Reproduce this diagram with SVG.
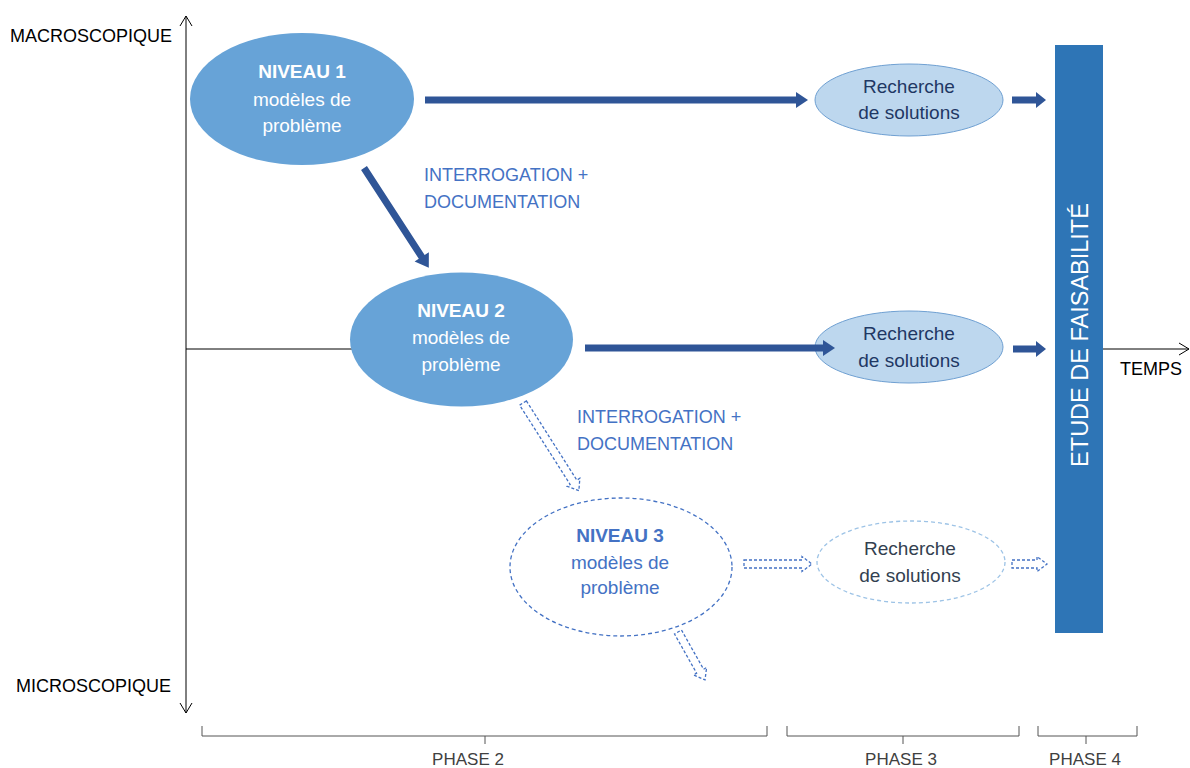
<svg xmlns="http://www.w3.org/2000/svg" width="1190" height="768" viewBox="0 0 1190 768">
<style>
text{font-family:"Liberation Sans",Arial,sans-serif}
.axis{stroke:#000;stroke-width:1;fill:none}
.lbl{font-size:18px;fill:#000}
.ph{font-size:17px;fill:#404040;text-anchor:middle}
.blu{font-size:18px;fill:#4472c4}
.lvl{fill:#67a3d7}
.wt{fill:#fff;font-size:19px;text-anchor:middle}
.rs{fill:#bdd7ee;stroke:#6fa0d2;stroke-width:1}
.rt{fill:#1f3864;font-size:19px;text-anchor:middle}
.solid{fill:#2f5597}
.hollow{fill:#fff;stroke:#4472c4;stroke-width:1.3;stroke-dasharray:3 2}
.brk{stroke:#555;stroke-width:1;fill:none}
</style>
<g id="axes">
<line class="axis" x1="186" y1="16" x2="186" y2="713"/>
<polyline class="axis" points="180,26 186,16 192,26"/>
<polyline class="axis" points="180,703 186,713 192,703"/>
<line class="axis" x1="186" y1="349" x2="352" y2="349"/>
<line class="axis" x1="1103" y1="349" x2="1189" y2="349"/>
<polyline class="axis" points="1179,343 1189,349 1179,355"/>
<text class="lbl" x="10" y="42" font-size="18.5px">MACROSCOPIQUE</text>
<text class="lbl" x="16" y="692">MICROSCOPIQUE</text>
<text class="lbl" x="1120" y="375">TEMPS</text>
</g>
<g id="niveau1">
<ellipse class="lvl" cx="302" cy="99" rx="112" ry="66"/>
<text class="wt" x="302" y="78" font-weight="bold">NIVEAU 1</text>
<text class="wt" x="302" y="106">modèles de</text>
<text class="wt" x="302" y="132">problème</text>
</g>
<g id="niveau2">
<ellipse class="lvl" cx="461.5" cy="339.5" rx="111.5" ry="67"/>
<text class="wt" x="461" y="317" font-weight="bold">NIVEAU 2</text>
<text class="wt" x="461" y="344">modèles de</text>
<text class="wt" x="461" y="371">problème</text>
</g>
<g id="niveau3">
<ellipse cx="621" cy="567" rx="111" ry="69" fill="none" stroke="#4472c4" stroke-width="1.3" stroke-dasharray="4 3"/>
<text x="620" y="542" font-size="19px" font-weight="bold" fill="#4472c4" text-anchor="middle">NIVEAU 3</text>
<text x="620" y="569" font-size="19px" fill="#4472c4" text-anchor="middle">modèles de</text>
<text x="620" y="594" font-size="19px" fill="#4472c4" text-anchor="middle">problème</text>
</g>
<g id="recherche1">
<ellipse class="rs" cx="909" cy="100" rx="94" ry="36"/>
<text class="rt" x="909" y="93">Recherche</text>
<text class="rt" x="909" y="119">de solutions</text>
</g>
<g id="recherche2">
<ellipse class="rs" cx="909" cy="347" rx="94" ry="36"/>
<text class="rt" x="909" y="340">Recherche</text>
<text class="rt" x="909" y="367">de solutions</text>
</g>
<g id="recherche3">
<ellipse cx="911" cy="562" rx="94" ry="41" fill="none" stroke="#9dc3e6" stroke-width="1.3" stroke-dasharray="4 3"/>
<text x="910" y="555" font-size="19px" fill="#333f50" text-anchor="middle">Recherche</text>
<text x="910" y="582" font-size="19px" fill="#333f50" text-anchor="middle">de solutions</text>
</g>
<g id="etude">
<rect x="1055" y="45" width="48" height="588" fill="#2e75b6"/>
<text transform="translate(1079,335) rotate(-90)" x="0" y="0" dy="8.5" font-size="23.5px" fill="#fff" text-anchor="middle">ETUDE DE FAISABILITÉ</text>
</g>
<g id="connectors">
<polygon class="solid" points="425,96.5 796,96.5 796,92 808,100 796,108 796,103.5 425,103.5"/>
<polygon class="solid" points="1012,96.5 1036,96.5 1036,92 1046,100 1036,108 1036,103.5 1012,103.5"/>
<polygon class="solid" points="585,344.5 823,344.5 823,340 835,348 823,356 823,351.5 585,351.5"/>
<polygon class="solid" points="1013,345.5 1036,345.5 1036,341 1046,349 1036,357 1036,352.5 1013,352.5"/>
<polygon class="solid" transform="translate(364,168) rotate(57)" points="0,-3.5 106,-3.5 106,-8.5 119,0 106,8.5 106,3.5 0,3.5"/>
<polygon class="hollow" transform="translate(523,403) rotate(57.5)" points="0,-4 94,-4 94,-7.5 104,0 94,7.5 94,4 0,4"/>
<polygon class="hollow" transform="translate(678,632) rotate(60.6)" points="0,-4 45,-4 45,-7.5 55,0 45,7.5 45,4 0,4"/>
<polygon class="hollow" points="744,560 802,560 802,556.5 812,564 802,571.5 802,568 744,568"/>
<polygon class="hollow" points="1012,560 1037,560 1037,556.5 1047,564 1037,571.5 1037,568 1012,568"/>
<text class="blu" x="424" y="181">INTERROGATION +</text>
<text class="blu" x="424" y="208">DOCUMENTATION</text>
<text class="blu" x="577" y="423">INTERROGATION +</text>
<text class="blu" x="577" y="450">DOCUMENTATION</text>
</g>
<g id="phases">
<path class="brk" d="M202,726 V736 H767 V726 M485,736 V744"/>
<path class="brk" d="M787,726 V736 H1019 V726 M903,736 V744"/>
<path class="brk" d="M1038,726 V736 H1137 V726 M1086,736 V744"/>
<text class="ph" x="468" y="765">PHASE 2</text>
<text class="ph" x="901" y="765">PHASE 3</text>
<text class="ph" x="1085" y="765">PHASE 4</text>
</g>
</svg>
